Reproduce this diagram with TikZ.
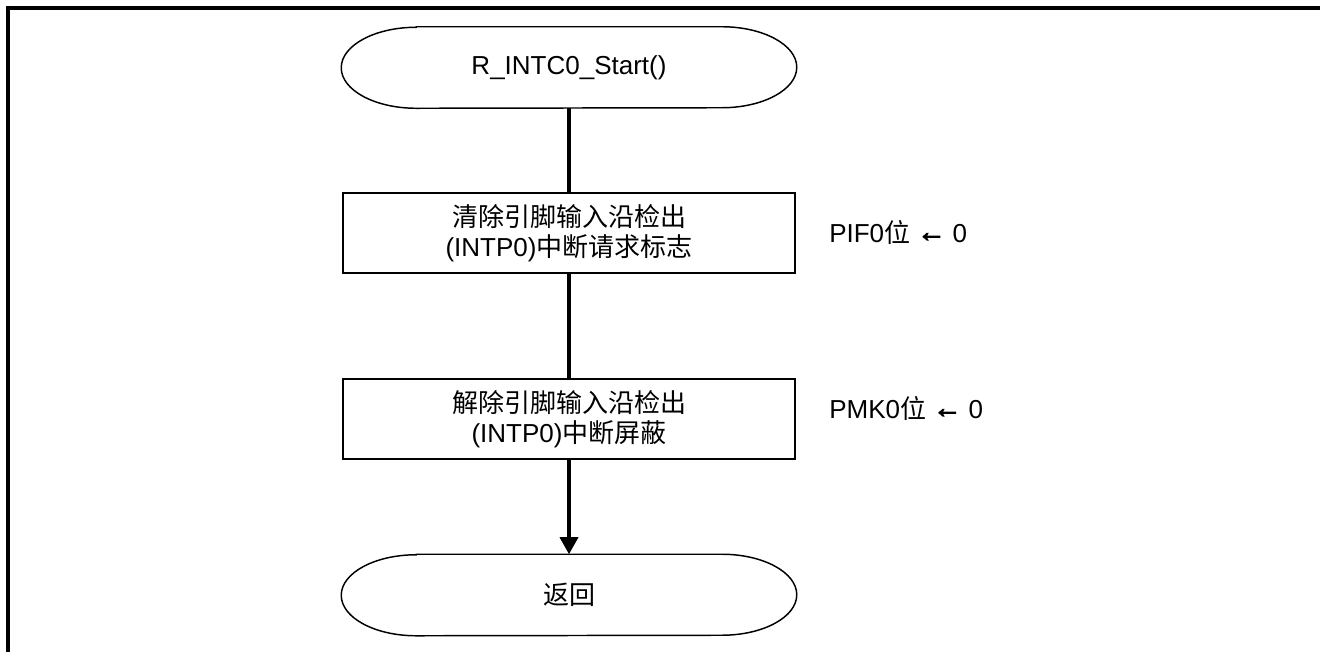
\documentclass[tikz,border=0pt]{standalone}
\usepackage{fontspec}
\setmainfont{Liberation Sans}
\newfontfamily\cjk{Noto Sans CJK SC}
\newfontfamily\arrowfont[FakeBold=4]{Liberation Sans}
\usetikzlibrary{arrows.meta}
\newcommand\termoutline[1]{%
  \draw[termline] ([xshift=56.25pt]#1.north west) -- ([xshift=-56.25pt]#1.north east)
    arc[start angle=90,end angle=-90,x radius=56.25pt,y radius=30.375pt]
    -- ([xshift=56.25pt]#1.south west)
    arc[start angle=270,end angle=90,x radius=56.25pt,y radius=30.375pt] -- cycle;}
\newcommand\larrowtxt{{\arrowfont\fontsize{21pt}{22.5pt}\selectfont\raisebox{0.5pt}{←}}}
\begin{document}
\begin{tikzpicture}[x=0.75pt,y=-0.75pt,
  font=\fontsize{19.5pt}{22.5pt}\selectfont,
  box/.style={draw, line width=1.1pt, minimum width=339pt, minimum height=60pt, inner sep=0pt, align=center},
  term/.style={minimum width=341.25pt, minimum height=60.75pt, inner sep=0pt},
  termline/.style={line width=1.1pt},
  flow/.style={line width=2.6pt},
  lbl/.style={anchor=west, inner sep=0pt}]
\useasboundingbox (0,0) rectangle (1320,651);
\draw[line width=2.3pt] (8,670) -- (8,8) -- (1340,8);
\node[term] (start) at (569,67.5) {R\_INTC0\_Start()};
\termoutline{start}
\node[box] (b1) at (569,233) {{\cjk 清除引脚输入沿检出}\\(INTP0){\cjk 中断请求标志}};
\node[box] (b2) at (569,419) {{\cjk 解除引脚输入沿检出}\\(INTP0){\cjk 中断屏蔽}};
\node[term] (end) at (569,595) {{\cjk 返回}};
\termoutline{end}
\draw[flow] (start) -- (b1);
\draw[flow] (b1) -- (b2);
\draw[flow, -{Triangle[length=12.75pt,width=13.5pt]}] (b2) -- (end);
\node[lbl] (l1) at (829,232) {PIF0{\cjk 位} \larrowtxt{} 0};
\node[lbl] (l2) at (829,408) {PMK0{\cjk 位} \larrowtxt{} 0};
\end{tikzpicture}
\end{document}
